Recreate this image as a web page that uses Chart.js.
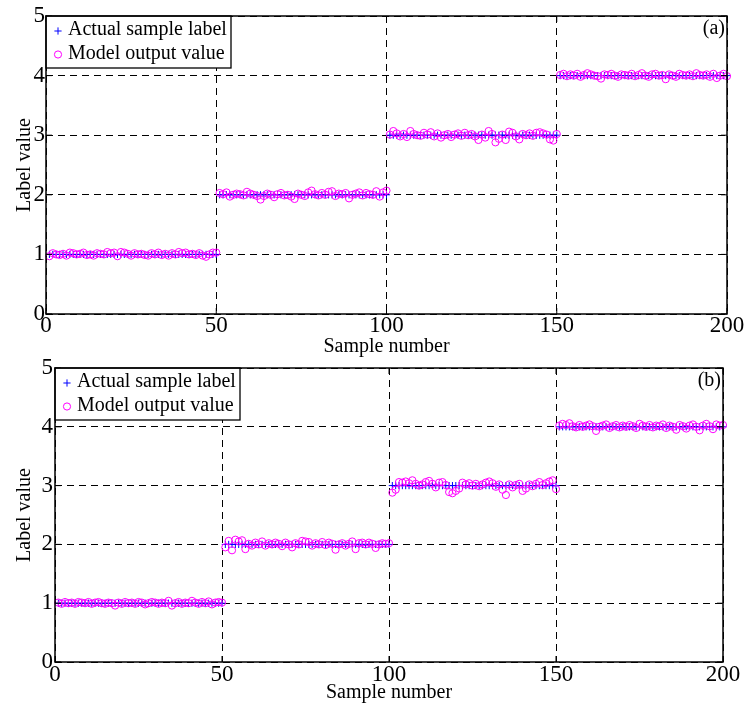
<!DOCTYPE html>
<html>
<head>
<meta charset="utf-8">
<script src="https://cdn.jsdelivr.net/npm/chart.js@4.4.1/dist/chart.umd.min.js"></script>
<style>
  html, body { margin: 0; padding: 0; background: #fff; }
  body { width: 745px; height: 706px; position: relative; overflow: hidden; }
  canvas { position: absolute; left: 0; }
  #chartA { top: 0; }
  #chartB { top: 350px; }
</style>
</head>
<body>
<canvas id="chartA" width="745" height="359"></canvas>
<canvas id="chartB" width="745" height="356"></canvas>
<script>
// axis ticks and names
const xTicks = [0, 50, 100, 150, 200];
const yTicks = [0, 1, 2, 3, 4, 5];
const seriesNames = ["Actual sample label", "Model output value"];
const panelTags = ["(a)", "(b)"];
const xTitle = "Sample number";
const yTitle = "Label value";

// sample index 1..200
const sampleNumber = Array.from({ length: 200 }, (_, i) => i + 1);

const actualLabel = [
  1,1,1,1,1,1,1,1,1,1, 1,1,1,1,1,1,1,1,1,1, 1,1,1,1,1,1,1,1,1,1, 1,1,1,1,1,1,1,1,1,1, 1,1,1,1,1,1,1,1,1,1,
  2,2,2,2,2,2,2,2,2,2, 2,2,2,2,2,2,2,2,2,2, 2,2,2,2,2,2,2,2,2,2, 2,2,2,2,2,2,2,2,2,2, 2,2,2,2,2,2,2,2,2,2,
  3,3,3,3,3,3,3,3,3,3, 3,3,3,3,3,3,3,3,3,3, 3,3,3,3,3,3,3,3,3,3, 3,3,3,3,3,3,3,3,3,3, 3,3,3,3,3,3,3,3,3,3,
  4,4,4,4,4,4,4,4,4,4, 4,4,4,4,4,4,4,4,4,4, 4,4,4,4,4,4,4,4,4,4, 4,4,4,4,4,4,4,4,4,4, 4,4,4,4,4,4,4,4,4,4
];

// panel (a) model output
const modelOutputA = [
  0.97, 1.02, 1.00, 0.99, 1.01, 0.98, 1.03, 1.02, 1.00, 1.01,
  1.03, 0.99, 1.00, 0.98, 1.02, 1.01, 1.00, 1.04, 1.02, 1.03,
  0.97, 1.04, 1.03, 1.01, 0.98, 1.02, 1.00, 1.01, 0.99, 0.98,
  1.02, 1.00, 1.03, 0.99, 1.01, 0.98, 1.02, 1.00, 1.04, 1.02,
  1.03, 1.00, 1.01, 0.99, 1.02, 0.98, 0.96, 1.00, 1.03, 1.03,
  2.03, 2.01, 2.04, 1.97, 2.00, 2.02, 2.01, 1.99, 2.05, 2.02,
  2.00, 1.98, 1.92, 1.98, 2.02, 2.00, 1.96, 2.01, 2.03, 1.99,
  2.00, 1.97, 1.93, 2.02, 2.00, 1.98, 2.04, 2.07, 2.01, 1.99,
  2.03, 2.00, 2.05, 2.06, 1.98, 2.02, 2.01, 2.03, 1.94, 2.00,
  2.02, 2.04, 1.99, 2.03, 2.01, 2.00, 2.06, 1.97, 2.04, 2.07,
  3.01, 3.07, 3.03, 2.98, 3.02, 2.97, 3.07, 3.02, 3.00, 2.99,
  3.04, 3.01, 3.05, 2.98, 3.03, 2.96, 3.00, 3.02, 2.97, 3.01,
  3.03, 2.99, 3.04, 3.00, 3.02, 2.98, 2.92, 3.01, 2.96, 3.07,
  3.02, 2.88, 2.94, 3.01, 2.92, 3.06, 3.04, 2.98, 2.93, 3.02,
  3.00, 3.03, 2.99, 3.04, 3.05, 3.03, 3.01, 2.93, 2.91, 3.02,
  4.01, 4.03, 3.99, 4.02, 4.00, 4.03, 3.98, 4.01, 4.04, 4.02,
  4.00, 3.99, 3.95, 4.02, 4.01, 4.03, 4.00, 3.98, 4.02, 4.01,
  4.00, 4.03, 3.99, 4.01, 4.04, 4.00, 3.98, 4.02, 4.03, 4.00,
  4.01, 3.94, 4.02, 4.00, 3.98, 4.03, 4.01, 4.00, 4.02, 3.99,
  4.04, 4.01, 4.00, 4.02, 3.98, 4.03, 3.96, 4.00, 4.03, 3.99
];

// panel (b) model output
const modelOutputB = [
  1.01, 0.99, 1.02, 1.00, 1.01, 0.99, 1.02, 1.01, 1.00, 1.02,
  0.99, 1.01, 1.02, 1.00, 0.99, 1.01, 1.00, 0.96, 1.01, 0.99,
  1.02, 1.00, 1.01, 0.99, 1.02, 1.01, 0.98, 1.00, 1.02, 1.01,
  0.99, 1.01, 1.00, 1.04, 0.96, 1.00, 1.02, 0.99, 1.01, 1.00,
  1.04, 1.01, 0.99, 1.02, 1.00, 1.03, 0.98, 1.01, 1.02, 1.01,
  1.95, 2.06, 1.90, 2.08, 2.05, 2.07, 1.92, 2.01, 1.98, 2.03,
  2.00, 2.05, 1.98, 2.02, 2.00, 2.03, 2.01, 1.97, 2.03, 2.00,
  1.95, 2.02, 2.00, 2.06, 2.05, 2.04, 1.98, 2.02, 2.00, 2.04,
  1.99, 2.03, 2.01, 1.91, 2.00, 2.02, 1.98, 2.01, 2.05, 1.92,
  2.02, 2.03, 2.00, 2.03, 2.01, 1.94, 2.00, 2.02, 2.01, 2.02,
  2.88, 2.93, 3.06, 3.05, 3.07, 3.04, 3.09, 3.03, 3.00, 3.02,
  3.06, 3.08, 3.03, 2.97, 3.05, 3.06, 3.01, 2.89, 2.87, 2.91,
  2.95, 3.05, 3.02, 3.04, 3.00, 3.03, 2.99, 3.02, 3.05, 3.07,
  3.04, 2.98, 3.02, 2.93, 2.84, 3.02, 2.97, 3.01, 3.03, 2.91,
  2.95, 3.02, 2.99, 3.03, 3.06, 3.01, 3.04, 3.07, 3.09, 2.94,
  4.02, 4.05, 4.03, 4.06, 4.01, 3.99, 4.03, 4.00, 4.02, 4.04,
  4.01, 3.93, 4.00, 4.02, 4.04, 3.98, 4.01, 4.03, 3.99, 4.02,
  4.00, 4.03, 4.01, 3.98, 4.05, 4.02, 4.00, 4.03, 3.99, 4.02,
  4.01, 4.04, 3.98, 4.02, 4.00, 3.95, 4.03, 4.01, 3.97, 4.02,
  4.04, 4.00, 3.94, 4.02, 4.05, 4.01, 3.96, 4.04, 4.02, 4.03
];

const serif = '"Liberation Serif", "Times New Roman", serif';
Chart.defaults.color = "#000";
Chart.defaults.font.family = serif;

// frame, inward ticks, legend box and panel tag (MATLAB look)
const matlabBox = {
  id: "matlabBox",
  afterDraw(chart, args, opts) {
    const ctx = chart.ctx;
    const a = chart.chartArea;
    const xs = chart.scales.x, ys = chart.scales.y;
    ctx.save();
    ctx.strokeStyle = "#000";
    ctx.lineWidth = 1;
    ctx.beginPath();
    xTicks.forEach(v => {
      const px = xs.getPixelForValue(v);
      ctx.moveTo(px, a.bottom); ctx.lineTo(px, a.bottom - 6);
      ctx.moveTo(px, a.top); ctx.lineTo(px, a.top + 6);
    });
    yTicks.forEach(v => {
      const py = ys.getPixelForValue(v);
      ctx.moveTo(a.left, py); ctx.lineTo(a.left + 6, py);
      ctx.moveTo(a.right, py); ctx.lineTo(a.right - 6, py);
    });
    ctx.stroke();

    // legend
    const lw = 185, lh = 52;
    ctx.fillStyle = "#fff";
    ctx.fillRect(a.left, a.top, lw, lh);
    ctx.lineWidth = 1.3;
    ctx.strokeRect(a.left, a.top, lw, lh);
    ctx.font = "20px " + serif;
    ctx.textBaseline = "middle";
    ctx.textAlign = "left";
    chart.data.datasets.forEach((ds, i) => {
      const cy = a.top + 15 + i * 23.5;
      const cx = a.left + 12;
      ctx.lineWidth = 1;
      ctx.strokeStyle = ds.borderColor;
      ctx.beginPath();
      if (ds.pointStyle === "cross") {
        ctx.moveTo(cx - ds.pointRadius, cy); ctx.lineTo(cx + ds.pointRadius, cy);
        ctx.moveTo(cx, cy - ds.pointRadius); ctx.lineTo(cx, cy + ds.pointRadius);
      } else {
        ctx.arc(cx, cy, ds.pointRadius, 0, Math.PI * 2);
      }
      ctx.stroke();
      ctx.fillStyle = "#000";
      ctx.fillText(ds.label, a.left + 22, cy - 1);
    });

    // frame
    ctx.strokeStyle = "#000";
    ctx.lineWidth = 1.5;
    ctx.strokeRect(a.left, a.top, a.right - a.left, a.bottom - a.top);

    // panel tag
    ctx.textAlign = "right";
    ctx.textBaseline = "alphabetic";
    ctx.fillText(opts.tag, a.right - 2, a.top + 18);
    ctx.restore();
  }
};

function makePanel(id, output, tag, g) {
  const labelPts = sampleNumber.map((n, i) => ({ x: n, y: actualLabel[i] }));
  const outputPts = sampleNumber.map((n, i) => ({ x: n, y: output[i] }));
  return new Chart(document.getElementById(id), {
    type: "scatter",
    data: {
      datasets: [
        {
          label: seriesNames[0],
          data: labelPts,
          pointStyle: "cross",
          pointRadius: 3.6,
          borderColor: "#0000ff",
          backgroundColor: "#0000ff",
          borderWidth: 1,
          clip: false,
          order: 2
        },
        {
          label: seriesNames[1],
          data: outputPts,
          pointStyle: "circle",
          pointRadius: 3.6,
          borderColor: "#ff00ff",
          backgroundColor: "rgba(0,0,0,0)",
          borderWidth: 1,
          clip: false,
          order: 1
        }
      ]
    },
    options: {
      responsive: false,
      animation: false,
      devicePixelRatio: 1,
      layout: { padding: { left: 0, top: g.top, right: g.right, bottom: 0 } },
      plugins: {
        legend: { display: false },
        tooltip: { enabled: false },
        matlabBox: { tag: tag }
      },
      scales: {
        x: {
          type: "linear",
          min: 0,
          max: 200,
          afterBuildTicks: s => { s.ticks = xTicks.map(v => ({ value: v })); },
          afterFit: s => { s.height = g.xh; },
          ticks: { autoSkip: false, maxRotation: 0, padding: g.xpad, font: { size: 23, lineHeight: 1 } },
          grid: { color: "#000", lineWidth: 1, drawTicks: false },
          border: { display: false, dash: [7, 5] },
          title: { display: true, text: xTitle, font: { size: 20 }, padding: { top: 0, bottom: g.tpad } }
        },
        y: {
          min: 0,
          max: 5,
          afterBuildTicks: s => { s.ticks = yTicks.map(v => ({ value: v })); },
          afterFit: s => { s.width = g.yw; },
          ticks: { padding: g.ypad, font: { size: 23, lineHeight: 1 } },
          grid: { color: "#000", lineWidth: 1, drawTicks: false },
          border: { display: false, dash: [7, 5] },
          title: { display: true, text: yTitle, font: { size: 20 }, padding: { top: 13, bottom: 0 } }
        }
      }
    },
    plugins: [matlabBox]
  });
}

makePanel("chartA", modelOutputA, panelTags[0], { top: 16, right: 18, xh: 45, yw: 46, xpad: 0.5, ypad: 1, tpad: 0.6 });
makePanel("chartB", modelOutputB, panelTags[1], { top: 18, right: 22, xh: 44, yw: 55, xpad: 1.5, ypad: 2, tpad: 1 });
</script>
</body>
</html>
